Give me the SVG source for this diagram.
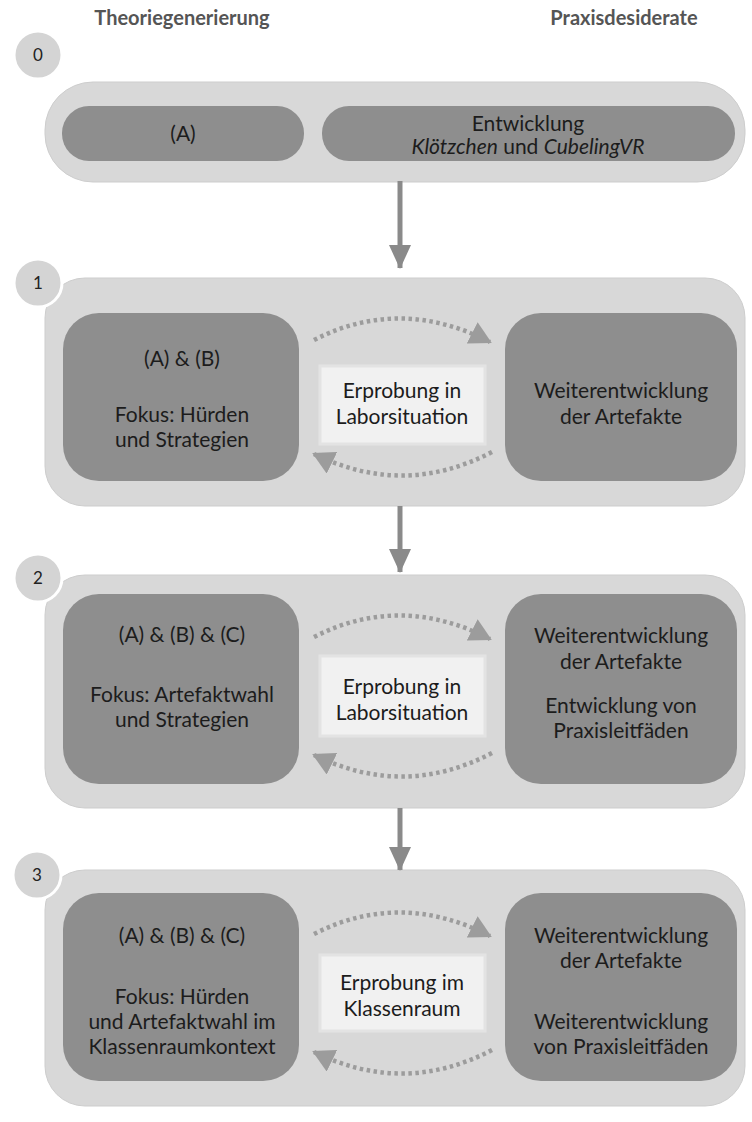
<svg xmlns="http://www.w3.org/2000/svg" width="752" height="1122" viewBox="0 0 752 1122">
<defs>
<style>
.hdr{font-family:Lato,"Open Sans",sans-serif;font-size:20px;font-weight:700;fill:#555555;text-anchor:middle}
.t{font-family:Lato,"Open Sans",sans-serif;font-size:21px;fill:#1c1c1c;text-anchor:middle}
.num{font-family:Lato,"Open Sans",sans-serif;font-size:17px;fill:#222222;text-anchor:middle}
.panel{fill:#d8d8d8;stroke:#cdcdcd;stroke-width:1}
.node{fill:#8e8e8e}
.box{fill:#f1f1f1;stroke:#e3e3e3;stroke-width:3}
.circ{fill:#d4d4d4;stroke:#ffffff;stroke-width:3}
.flow{stroke:#8a8a8a;stroke-width:5;fill:none}
.dots{stroke:#9c9c9c;stroke-width:4.5;fill:none;stroke-dasharray:3.5 3.5}
</style>
<marker id="big" viewBox="0 0 24 22" refX="23" refY="11" markerWidth="24" markerHeight="22" orient="auto" markerUnits="userSpaceOnUse">
<path d="M0,0 L24,11 L0,22 Z" fill="#8a8a8a"/>
</marker>
<marker id="small" viewBox="0 0 22 24" refX="20" refY="12" markerWidth="22" markerHeight="24" orient="auto" markerUnits="userSpaceOnUse">
<path d="M0,0 L22,12 L0,24 Z" fill="#9c9c9c"/>
</marker>
</defs>
<rect width="752" height="1122" fill="#ffffff"/>

<text class="hdr" x="182" y="25">Theoriegenerierung</text>
<text class="hdr" x="624" y="25">Praxisdesiderate</text>

<!-- Stage 0 -->
<g id="stage0">
<rect class="panel" x="45" y="82" width="700" height="100" rx="48"/>
<circle class="circ" cx="38" cy="55" r="24"/>
<text class="num" x="38" y="61">0</text>
</g>
<g id="node0a">
<rect class="node" x="62" y="106" width="242" height="55" rx="27"/>
<text class="t" x="183" y="141">(A)</text>
</g>
<g id="node0b">
<rect class="node" x="322" y="106" width="413" height="55" rx="27"/>
<text class="t" x="528" y="131">Entwicklung</text>
<text class="t" x="528" y="154"><tspan font-style="italic">Klötzchen</tspan> und <tspan font-style="italic">CubelingVR</tspan></text>
</g>

<!-- Stage 1 -->
<g id="stage1">
<rect class="panel" x="45" y="278" width="700" height="228" rx="40"/>
<circle class="circ" cx="38" cy="283" r="24"/>
<text class="num" x="38" y="289">1</text>
</g>
<g id="node1l">
<rect class="node" x="63" y="313" width="236" height="168" rx="36"/>
<text class="t" x="182" y="366">(A) &amp; (B)</text>
<text class="t" x="182" y="422">Fokus: Hürden</text>
<text class="t" x="182" y="447">und Strategien</text>
</g>
<g id="node1c">
<rect class="box" x="320" y="366" width="165" height="78"/>
<text class="t" x="402" y="398">Erprobung in</text>
<text class="t" x="402" y="424">Laborsituation</text>
</g>
<g id="node1r">
<rect class="node" x="505" y="313" width="232" height="168" rx="36"/>
<text class="t" x="621" y="398">Weiterentwicklung</text>
<text class="t" x="621" y="424">der Artefakte</text>
</g>

<!-- Stage 2 -->
<g id="stage2">
<rect class="panel" x="45" y="575" width="700" height="233" rx="40"/>
<circle class="circ" cx="38" cy="578" r="24"/>
<text class="num" x="38" y="584">2</text>
</g>
<g id="node2l">
<rect class="node" x="63" y="594" width="236" height="190" rx="36"/>
<text class="t" x="182" y="642">(A) &amp; (B) &amp; (C)</text>
<text class="t" x="182" y="702">Fokus: Artefaktwahl</text>
<text class="t" x="182" y="727">und Strategien</text>
</g>
<g id="node2c">
<rect class="box" x="320" y="656" width="165" height="80"/>
<text class="t" x="402" y="694">Erprobung in</text>
<text class="t" x="402" y="720">Laborsituation</text>
</g>
<g id="node2r">
<rect class="node" x="505" y="594" width="232" height="190" rx="36"/>
<text class="t" x="621" y="643">Weiterentwicklung</text>
<text class="t" x="621" y="669">der Artefakte</text>
<text class="t" x="621" y="713">Entwicklung von</text>
<text class="t" x="621" y="738">Praxisleitfäden</text>
</g>

<!-- Stage 3 -->
<g id="stage3">
<rect class="panel" x="45" y="870" width="700" height="236" rx="40"/>
<circle class="circ" cx="37" cy="875" r="24"/>
<text class="num" x="37" y="881">3</text>
</g>
<g id="node3l">
<rect class="node" x="63" y="893" width="236" height="188" rx="36"/>
<text class="t" x="182" y="943">(A) &amp; (B) &amp; (C)</text>
<text class="t" x="182" y="1004">Fokus: Hürden</text>
<text class="t" x="182" y="1029">und Artefaktwahl im</text>
<text class="t" x="182" y="1054">Klassenraumkontext</text>
</g>
<g id="node3c">
<rect class="box" x="320" y="955" width="165" height="76"/>
<text class="t" x="402" y="990">Erprobung im</text>
<text class="t" x="402" y="1016">Klassenraum</text>
</g>
<g id="node3r">
<rect class="node" x="505" y="893" width="232" height="188" rx="36"/>
<text class="t" x="621" y="943">Weiterentwicklung</text>
<text class="t" x="621" y="968">der Artefakte</text>
<text class="t" x="621" y="1029">Weiterentwicklung</text>
<text class="t" x="621" y="1054">von Praxisleitfäden</text>
</g>

<!-- Connectors -->
<g id="connectors">
<line class="flow" x1="400" y1="181" x2="400" y2="268" marker-end="url(#big)"/>
<line class="flow" x1="400" y1="506" x2="400" y2="572" marker-end="url(#big)"/>
<line class="flow" x1="400" y1="808" x2="400" y2="870" marker-end="url(#big)"/>

<path class="dots" d="M314,340 Q400,296 490,342" marker-end="url(#small)"/>
<path class="dots" d="M492,452 Q404,498 314,454" marker-end="url(#small)"/>

<path class="dots" d="M314,637 Q400,593 490,639" marker-end="url(#small)"/>
<path class="dots" d="M492,753 Q404,799 314,755" marker-end="url(#small)"/>

<path class="dots" d="M314,934 Q400,890 490,936" marker-end="url(#small)"/>
<path class="dots" d="M492,1050 Q404,1096 314,1052" marker-end="url(#small)"/>
</g>
</svg>
